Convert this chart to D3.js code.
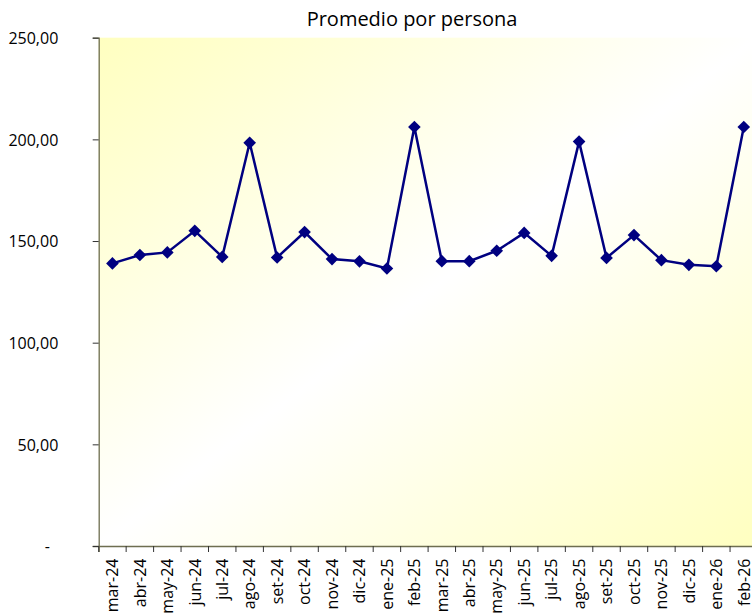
<!DOCTYPE html>
<html><head><meta charset="utf-8">
<script src="https://cdn.jsdelivr.net/npm/d3@7"></script>
<style>
html,body{margin:0;padding:0;background:#fff;overflow:hidden}
svg{display:block;font-family:"Open Sans",sans-serif}
</style></head><body>
<svg id="c" width="752" height="613"></svg>
<script>
const title = "Promedio por persona";
const categories = ["mar-24","abr-24","may-24","jun-24","jul-24","ago-24","set-24","oct-24","nov-24","dic-24","ene-25","feb-25","mar-25","abr-25","may-25","jun-25","jul-25","ago-25","set-25","oct-25","nov-25","dic-25","ene-26","feb-26"];
const values = [139.0,143.1,144.4,155.0,142.2,198.3,141.9,154.4,141.1,140.0,136.5,206.1,140.1,140.1,145.2,154.0,142.7,198.9,141.7,152.9,140.6,138.3,137.6,206.1];
const yTicks = [0,50,100,150,200,250];

const svg = d3.select("#c");
const L = 98.7, R = 757.5, T = 37.7, B = 546;
const x = d3.scaleBand().domain(categories).range([L,R]);
const y = d3.scaleLinear().domain([0,250]).range([B,T]);

const defs = svg.append("defs");
const g = defs.append("linearGradient").attr("id","bg").attr("x1","0").attr("y1","0").attr("x2","1").attr("y2","1");
g.append("stop").attr("offset","0").attr("stop-color","#FFFFC0");
g.append("stop").attr("offset","0.5").attr("stop-color","#FFFFFF");
g.append("stop").attr("offset","1").attr("stop-color","#FFFFC0");

svg.append("rect").attr("x",L).attr("y",T).attr("width",R-L).attr("height",B-T).attr("fill","url(#bg)");

svg.append("text").attr("x",412).attr("y",26).attr("text-anchor","middle")
  .attr("font-size",20).attr("fill","#000").text(title);

const fmt = v => v===0 ? "-" : d3.format(".2f")(v).replace(".",",");
const ya = svg.append("g").attr("transform",`translate(${L},0)`)
  .call(d3.axisLeft(y).tickValues(yTicks).tickFormat(fmt).tickSize(6).tickPadding(0));
ya.select(".domain").attr("stroke","#6e6e50").attr("stroke-width",1.3);
ya.selectAll(".tick line").attr("stroke","#333");
ya.selectAll(".tick text").attr("font-size",16).attr("fill","#000").attr("font-family","'Open Sans',sans-serif")
  .attr("x",-40.4).attr("dy","0.36em");
ya.selectAll(".tick text").filter(d=>d===0).attr("x",-48.7);

const xa = svg.append("g").attr("transform",`translate(0,${B})`)
  .call(d3.axisBottom(x).tickSize(6).tickFormat(d=>d));
xa.select(".domain").attr("stroke","#6e6e50").attr("stroke-width",1.3);
xa.selectAll(".tick line").attr("stroke","#333").attr("transform",`translate(${-x.bandwidth()/2},0)`);
xa.selectAll(".tick text").attr("font-size",16).attr("fill","#000").attr("font-family","'Open Sans',sans-serif")
  .attr("transform","rotate(-90)").attr("text-anchor","end").attr("x",-12.5).attr("y",0).attr("dy","0.36em");

const line = d3.line().x((d,i)=>x(categories[i])+x.bandwidth()/2).y(d=>y(d));
svg.append("path").datum(values).attr("d",line).attr("fill","none").attr("stroke","#000080").attr("stroke-width",2.5);
svg.append("g").selectAll("path").data(values).join("path")
  .attr("d",d3.symbol(d3.symbolSquare,80))
  .attr("transform",(d,i)=>`translate(${x(categories[i])+x.bandwidth()/2},${y(d)}) rotate(45)`)
  .attr("fill","#000080");
</script></body></html>
